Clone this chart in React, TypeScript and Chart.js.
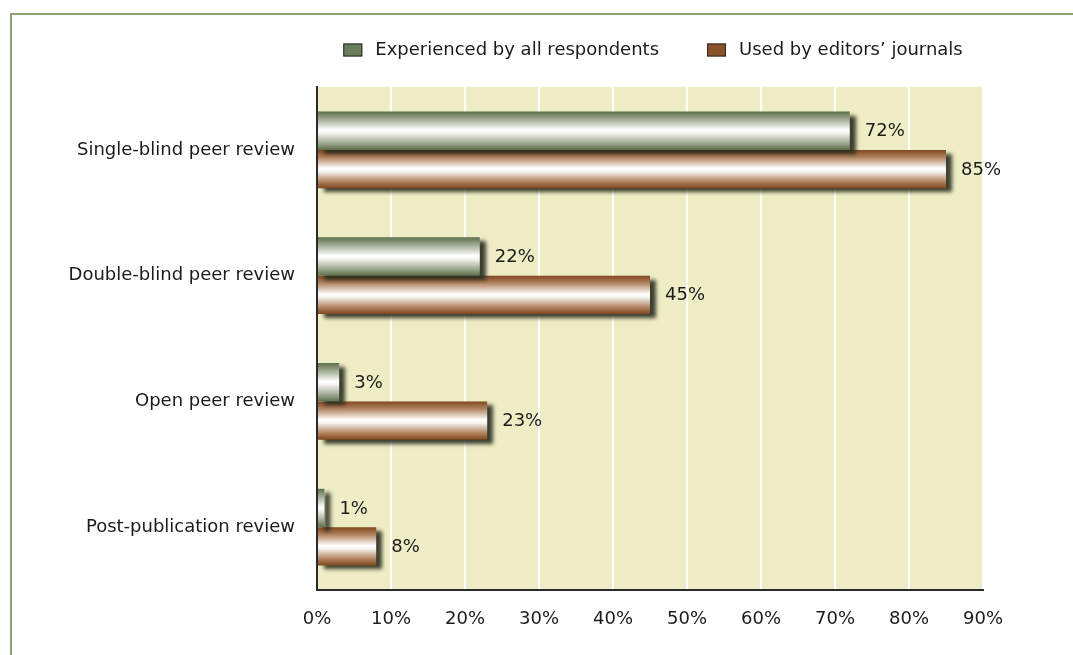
import React, { useEffect, useRef } from "react";
import { Chart, registerables } from "chart.js";

Chart.register(...registerables);

const categories = [
  "Single-blind peer review",
  "Double-blind peer review",
  "Open peer review",
  "Post-publication review",
];
const seriesNames = ["Experienced by all respondents", "Used by editors’ journals"];
const experiencedValues = [72, 22, 3, 1];
const editorsValues = [85, 45, 23, 8];
const xMin = 0;
const xMax = 90;
const xStep = 10;

const FONT = "'DejaVu Sans', sans-serif";
const FONT_SIZE = 18;
const TEXT_COLOR = "#1b1b1b";
const GREEN = "#6b7d59";
const BROWN = "#8a5128";

function makeGradient(ctx: CanvasRenderingContext2D, top: number, bottom: number, dark: string, mid: string) {
  const g = ctx.createLinearGradient(0, top, 0, bottom);
  g.addColorStop(0, dark);
  g.addColorStop(0.2, mid);
  g.addColorStop(0.48, "#ffffff");
  g.addColorStop(0.56, "#f6f5f2");
  g.addColorStop(0.82, mid);
  g.addColorStop(1, dark);
  return g;
}

const plotBgPlugin = {
  id: "plotBg",
  beforeDraw(chart: any) {
    const { ctx, chartArea } = chart;
    ctx.save();
    ctx.fillStyle = "#efedc5";
    ctx.fillRect(chartArea.left, chartArea.top, chartArea.right - chartArea.left, chartArea.bottom - chartArea.top);
    ctx.restore();
  },
};

const legendPlugin = {
  id: "customLegend",
  afterDraw(chart: any) {
    const { ctx, chartArea } = chart;
    const colors = [GREEN, BROWN];
    const boxW = 19;
    const boxH = 13;
    const gapBoxText = 13;
    const gapItems = 48;
    ctx.save();
    ctx.font = `${FONT_SIZE}px ${FONT}`;
    const widths = seriesNames.map((n) => ctx.measureText(n).width);
    const total = widths.reduce((a, w) => a + boxW + gapBoxText + w, 0) + gapItems * (seriesNames.length - 1);
    let x = (chartArea.left + chartArea.right) / 2 + 3 - total / 2;
    const cy = 50;
    ctx.textBaseline = "middle";
    ctx.textAlign = "left";
    seriesNames.forEach((n, i) => {
      ctx.fillStyle = colors[i];
      ctx.fillRect(x, cy - boxH / 2, boxW, boxH);
      ctx.strokeStyle = "#2a2a2a";
      ctx.lineWidth = 1;
      ctx.strokeRect(x + 0.5, cy - boxH / 2 + 0.5, boxW - 1, boxH - 1);
      x += boxW + gapBoxText;
      ctx.fillStyle = TEXT_COLOR;
      ctx.fillText(n, x, cy);
      x += widths[i] + gapItems;
    });
    ctx.restore();
  },
};

const barStylePlugin = {
  id: "barStyle",
  beforeDatasetsDraw(chart: any) {
    const ctx = chart.ctx;
    chart.data.datasets.forEach((ds: any, di: number) => {
      const meta = chart.getDatasetMeta(di);
      meta.data.forEach((el: any) => {
        const top = el.y - el.height / 2;
        const bottom = el.y + el.height / 2;
        const grad =
          di === 0
            ? makeGradient(ctx, top, bottom, "#5d6f4b", "#a0aa92")
            : makeGradient(ctx, top, bottom, "#7e461e", "#b38663");
        el.options = Object.assign({}, el.options, { backgroundColor: grad });
      });
    });
  },
  beforeDatasetDraw(chart: any) {
    const ctx = chart.ctx;
    ctx.save();
    ctx.shadowColor = "rgba(40,44,30,0.9)";
    ctx.shadowBlur = 4;
    ctx.shadowOffsetX = 6;
    ctx.shadowOffsetY = 4;
  },
  afterDatasetDraw(chart: any) {
    chart.ctx.restore();
  },
  afterDatasetsDraw(chart: any) {
    const ctx = chart.ctx;
    ctx.save();
    ctx.font = `${FONT_SIZE}px ${FONT}`;
    ctx.fillStyle = TEXT_COLOR;
    ctx.textAlign = "left";
    ctx.textBaseline = "middle";
    chart.data.datasets.forEach((ds: any, di: number) => {
      const meta = chart.getDatasetMeta(di);
      meta.data.forEach((el: any, i: number) => {
        ctx.fillText(ds.data[i] + "%", el.x + 15, el.y + 1);
      });
    });
    ctx.restore();
  },
};

export default function App() {
  const ref = useRef<HTMLCanvasElement | null>(null);
  useEffect(() => {
    if (!ref.current) return;
    const chart = new Chart(ref.current, {
      type: "bar",
      data: {
        labels: categories,
        datasets: [
          { label: seriesNames[0], data: experiencedValues, backgroundColor: GREEN, borderWidth: 0 },
          { label: seriesNames[1], data: editorsValues, backgroundColor: BROWN, borderWidth: 0 },
        ],
      },
      options: {
        indexAxis: "y",
        animation: false,
        responsive: false,
        maintainAspectRatio: false,
        events: [],
        categoryPercentage: 0.61,
        barPercentage: 1,
        layout: { padding: { top: 87, right: 90, left: 0, bottom: 0 } },
        plugins: {
          tooltip: { enabled: false },
          legend: { display: false },
        },
        scales: {
          x: {
            type: "linear",
            min: xMin,
            max: xMax,
            afterFit: (s: any) => {
              s.height = 65;
            },
            ticks: {
              stepSize: xStep,
              callback: (v: any) => v + "%",
              font: { family: FONT, size: FONT_SIZE },
              color: TEXT_COLOR,
              padding: 19,
            },
            grid: { color: "#ffffff", lineWidth: 2, drawTicks: false },
            border: { display: true, color: "#2b2b2b", width: 2 },
          },
          y: {
            type: "category",
            afterFit: (s: any) => {
              s.width = 317;
            },
            ticks: {
              font: { family: FONT, size: FONT_SIZE },
              color: TEXT_COLOR,
              padding: 22,
            },
            grid: { display: false, drawTicks: false },
            border: { display: true, color: "#2b2b2b", width: 2 },
          },
        },
      },
      plugins: [plotBgPlugin, barStylePlugin, legendPlugin],
    } as any);
    return () => chart.destroy();
  }, []);

  return (
    <div style={{ position: "fixed", left: 0, top: 0, width: 1073, height: 655, background: "#ffffff", overflow: "hidden" }}>
      <div
        style={{
          position: "absolute",
          left: 10,
          top: 13,
          width: 1100,
          height: 700,
          borderTop: "2px solid #8ca472",
          borderLeft: "2px solid #8ca472",
        }}
      />
      <canvas ref={ref} width={1073} height={655} style={{ position: "absolute", left: 0, top: 0, width: 1073, height: 655 }} />
    </div>
  );
}
